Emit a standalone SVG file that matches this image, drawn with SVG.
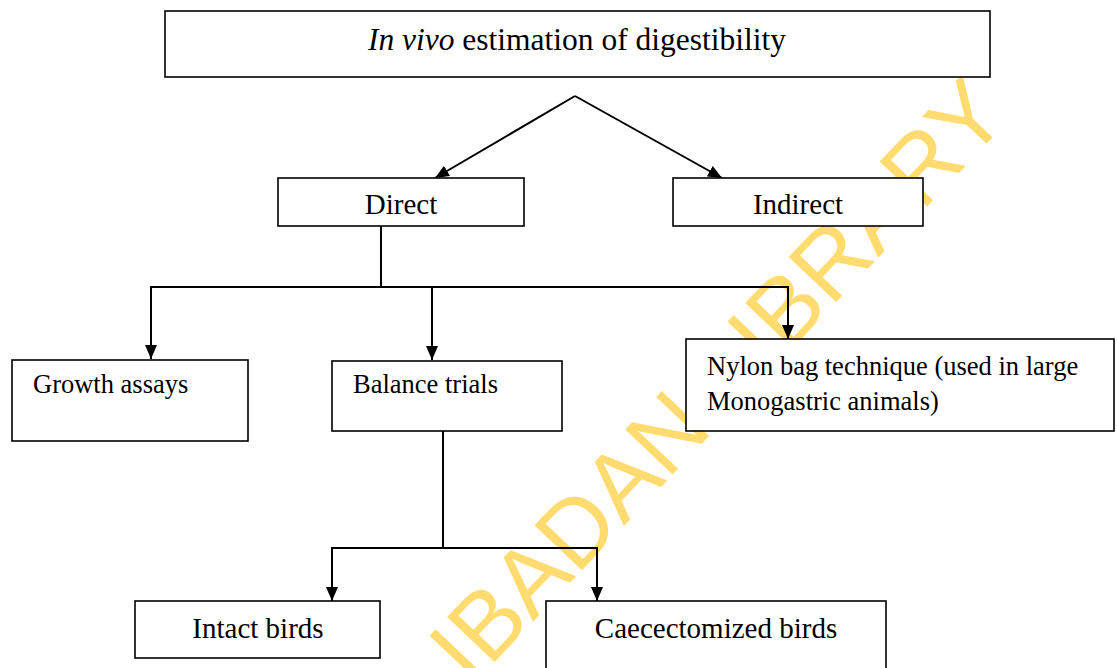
<svg xmlns="http://www.w3.org/2000/svg" width="1117" height="668" viewBox="0 0 1117 668">
<defs>
<marker id="ah" viewBox="0 0 14 12" refX="14" refY="6" markerWidth="14" markerHeight="12" markerUnits="userSpaceOnUse" orient="auto">
<path d="M0,0 L14,6 L0,12 Z" fill="#000"/>
</marker>
<style>
.box{fill:#fff;stroke:#000;stroke-width:1.6}
.c{fill:none;stroke:#000;stroke-width:2}
.t{font-family:"Liberation Serif","Times New Roman",serif;fill:#000}
.s{font-size:26.5px}
.m{font-size:29px;text-anchor:middle}
</style>
</defs>
<rect width="1117" height="668" fill="#fff"/>
<g id="watermark">
<text x="0" y="0" font-family="Liberation Sans, Arial, sans-serif" font-size="95" fill="#FFDB70" transform="translate(471,687) rotate(-46.5)">IBADAN LIBRARY</text>
</g>
<g id="connectors">
<path class="c" d="M575,96 L435,178" marker-end="url(#ah)"/>
<path class="c" d="M575,96 L722,178" marker-end="url(#ah)"/>
<line class="c" x1="381" y1="226" x2="381" y2="287"/>
<line class="c" x1="150" y1="287" x2="789" y2="287"/>
<path class="c" d="M151,287 V359" marker-end="url(#ah)"/>
<path class="c" d="M432,287 V360" marker-end="url(#ah)"/>
<path class="c" d="M788,287 V339" marker-end="url(#ah)"/>
<line class="c" x1="443" y1="431" x2="443" y2="548"/>
<line class="c" x1="331" y1="548" x2="598" y2="548"/>
<path class="c" d="M332,548 V601" marker-end="url(#ah)"/>
<path class="c" d="M597,548 V601" marker-end="url(#ah)"/>
</g>
<g id="n-top">
<rect class="box" x="165" y="11" width="825" height="66"/>
<text class="t" x="577" y="50" font-size="31.5" text-anchor="middle"><tspan font-style="italic">In vivo</tspan> estimation of digestibility</text>
</g>
<g id="n-direct">
<rect class="box" x="278" y="178" width="246" height="48"/>
<text class="t m" x="401" y="214">Direct</text>
</g>
<g id="n-indirect">
<rect class="box" x="673" y="178" width="250" height="48"/>
<text class="t m" x="798" y="214">Indirect</text>
</g>
<g id="n-growth">
<rect class="box" x="12" y="360" width="236" height="81"/>
<text class="t s" x="33" y="393">Growth assays</text>
</g>
<g id="n-balance">
<rect class="box" x="332" y="361" width="230" height="70"/>
<text class="t s" x="353" y="393">Balance trials</text>
</g>
<g id="n-nylon">
<rect class="box" x="686" y="339" width="428" height="92"/>
<text class="t s" x="707" y="375">Nylon bag technique (used in large</text>
<text class="t s" x="707" y="410">Monogastric animals)</text>
</g>
<g id="n-intact">
<rect class="box" x="135" y="601" width="245" height="57"/>
<text class="t m" x="258" y="638">Intact birds</text>
</g>
<g id="n-caec">
<rect class="box" x="546" y="601" width="340" height="80"/>
<text class="t m" x="716" y="638">Caecectomized birds</text>
</g>
</svg>
